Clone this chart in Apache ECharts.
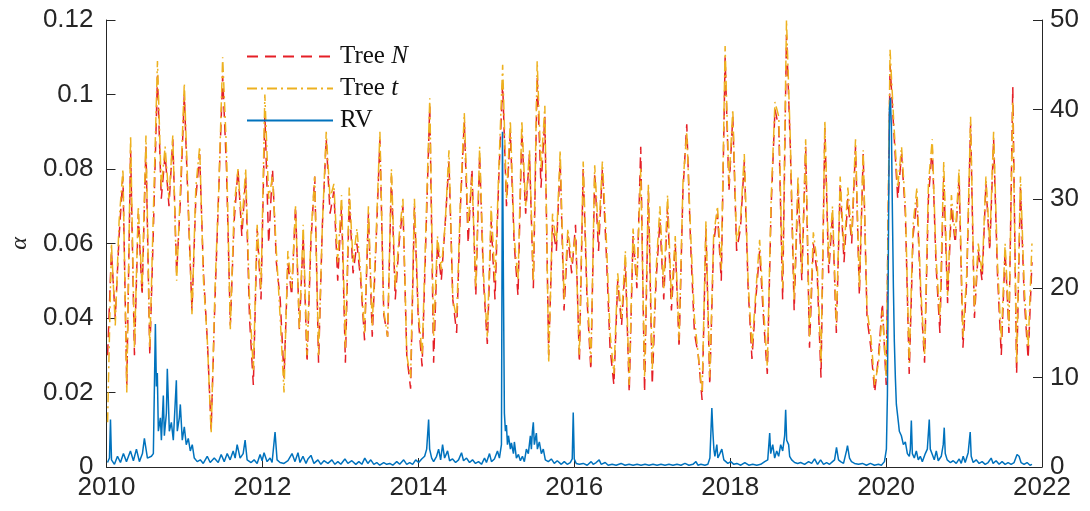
<!DOCTYPE html>
<html>
<head>
<meta charset="utf-8">
<title>Tree alpha vs RV</title>
<script src="https://cdn.jsdelivr.net/npm/echarts@6.0.0/dist/echarts.min.js"></script>
<style>
  html, body { margin: 0; padding: 0; background: #fff; }
  #main { width: 1090px; height: 511px; }
</style>
</head>
<body>
<div id="main"></div>
<script type="text/javascript">
// regular date grid of the tree estimates (decimal years)
var gridStart = 2010.014;
var gridStep = 0.0492;

// alpha, Tree N (red dashed), one value per grid date
var treeN = [
  .030,.058,.040,.062,.078,.022,.085,.030,.068,.046,
  .086,.030,.066,.105,.072,.084,.070,.088,.052,.072,
  .100,.070,.042,.072,.084,.052,.034,.010,.045,.075,
  .105,.080,.038,.066,.080,.062,.078,.040,.022,.064,
  .045,.095,.060,.080,.055,.045,.024,.055,.046,.070,
  .037,.062,.028,.060,.078,.028,.065,.088,.068,.074,
  .050,.070,.028,.072,.052,.060,.050,.034,.068,.035,
  .060,.088,.041,.035,.078,.045,.060,.070,.030,.021,
  .070,.040,.027,.062,.097,.028,.060,.050,.065,.082,
  .045,.036,.070,.093,.060,.080,.046,.084,.050,.033,
  .066,.045,.078,.103,.070,.090,.060,.046,.090,.068,
  .084,.048,.105,.075,.094,.030,.065,.058,.082,.042,
  .062,.052,.065,.028,.080,.045,.026,.079,.058,.080,
  .058,.032,.022,.050,.038,.055,.020,.062,.048,.086,
  .020,.074,.022,.050,.066,.045,.070,.042,.060,.032,
  .074,.092,.060,.036,.030,.018,.064,.022,.060,.068,
  .050,.110,.074,.094,.058,.064,.082,.048,.029,.045,
  .058,.040,.025,.070,.096,.091,.045,.116,.086,.042,
  .075,.050,.086,.032,.060,.052,.024,.091,.052,.068,
  .036,.076,.055,.072,.060,.086,.046,.084,.040,.032,
  .020,.030,.044,.022,.108,.090,.072,.084,.068,.025,
  .062,.072,.046,.028,.072,.086,.054,.036,.078,.044,
  .070,.060,.078,.032,.050,.092,.040,.058,.050,.076,
  .058,.088,.052,.030,.058,.036,.102,.025,.075,.045,
  .029,.055
];

// alpha, Tree t (yellow dash-dot)
var treeT = [
  .012,.060,.038,.066,.080,.020,.089,.032,.070,.048,
  .089,.032,.071,.109,.075,.086,.072,.089,.050,.075,
  .103,.072,.041,.075,.086,.050,.034,.009,.048,.075,
  .110,.085,.037,.070,.080,.065,.080,.045,.026,.065,
  .048,.100,.072,.078,.058,.040,.020,.058,.048,.070,
  .037,.065,.030,.062,.078,.030,.065,.090,.072,.076,
  .055,.073,.032,.075,.055,.064,.052,.036,.070,.038,
  .062,.090,.042,.035,.080,.048,.062,.072,.030,.024,
  .072,.042,.030,.065,.099,.035,.062,.053,.065,.085,
  .045,.040,.072,.095,.065,.078,.048,.086,.052,.035,
  .070,.050,.080,.108,.072,.093,.062,.050,.093,.070,
  .085,.050,.109,.080,.097,.028,.068,.060,.085,.045,
  .064,.055,.062,.030,.082,.048,.028,.081,.062,.082,
  .062,.036,.025,.052,.040,.058,.022,.064,.050,.080,
  .024,.076,.026,.053,.070,.048,.073,.045,.062,.034,
  .076,.090,.063,.040,.030,.020,.066,.024,.062,.070,
  .053,.113,.076,.096,.060,.066,.084,.050,.032,.047,
  .061,.043,.027,.072,.098,.094,.048,.120,.088,.045,
  .078,.052,.088,.035,.063,.055,.028,.093,.055,.070,
  .038,.078,.058,.075,.062,.088,.048,.085,.042,.035,
  .022,.028,.042,.024,.112,.092,.075,.086,.070,.028,
  .065,.075,.048,.030,.076,.088,.056,.040,.082,.046,
  .073,.062,.080,.035,.052,.094,.042,.060,.052,.078,
  .060,.090,.055,.034,.060,.038,.098,.028,.078,.048,
  .032,.060
];

// realized volatility (right axis), dates in decimal years
var rvDates = [
  2010.013,2010.038,2010.051,2010.064,2010.102,2010.141,2010.179,2010.217,2010.256,2010.307,
  2010.345,2010.384,2010.422,2010.461,2010.486,2010.525,2010.576,2010.601,2010.627,2010.640,
  2010.652,2010.665,2010.691,2010.704,2010.729,2010.742,2010.768,2010.780,2010.806,2010.832,
  2010.857,2010.896,2010.908,2010.934,2010.947,2010.972,2010.998,2011.023,2011.049,2011.075,
  2011.100,2011.126,2011.164,2011.203,2011.241,2011.292,2011.330,2011.382,2011.433,2011.471,
  2011.510,2011.548,2011.586,2011.625,2011.650,2011.676,2011.714,2011.753,2011.778,2011.804,
  2011.855,2011.893,2011.932,2011.970,2011.996,2012.021,2012.060,2012.098,2012.124,2012.162,
  2012.188,2012.226,2012.277,2012.328,2012.380,2012.418,2012.456,2012.482,2012.520,2012.559,
  2012.584,2012.623,2012.661,2012.712,2012.750,2012.789,2012.840,2012.891,2012.930,2012.968,
  2013.006,2013.058,2013.096,2013.147,2013.198,2013.237,2013.275,2013.313,2013.352,2013.390,
  2013.429,2013.467,2013.505,2013.556,2013.595,2013.633,2013.672,2013.723,2013.761,2013.812,
  2013.851,2013.889,2013.927,2013.966,2014.004,2014.043,2014.081,2014.107,2014.132,2014.145,
  2014.171,2014.196,2014.234,2014.260,2014.286,2014.311,2014.337,2014.375,2014.401,2014.439,
  2014.478,2014.516,2014.554,2014.580,2014.618,2014.657,2014.695,2014.733,2014.772,2014.810,
  2014.849,2014.874,2014.913,2014.938,2014.976,2015.015,2015.040,2015.066,2015.079,2015.092,
  2015.104,2015.117,2015.130,2015.143,2015.156,2015.181,2015.194,2015.220,2015.232,2015.258,
  2015.284,2015.309,2015.335,2015.360,2015.386,2015.411,2015.437,2015.450,2015.463,2015.475,
  2015.488,2015.514,2015.527,2015.552,2015.578,2015.603,2015.629,2015.667,2015.706,2015.744,
  2015.782,2015.834,2015.872,2015.910,2015.949,2015.974,2015.987,2016.000,2016.025,2016.064,
  2016.115,2016.166,2016.217,2016.243,2016.281,2016.320,2016.345,2016.397,2016.435,2016.486,
  2016.537,2016.601,2016.652,2016.704,2016.755,2016.806,2016.857,2016.908,2016.959,2017.011,
  2017.062,2017.113,2017.164,2017.215,2017.266,2017.318,2017.369,2017.420,2017.471,2017.522,
  2017.561,2017.586,2017.625,2017.676,2017.714,2017.740,2017.765,2017.778,2017.791,2017.804,
  2017.829,2017.842,2017.868,2017.893,2017.919,2017.944,2017.970,2018.008,2018.047,2018.085,
  2018.136,2018.188,2018.239,2018.290,2018.341,2018.392,2018.443,2018.482,2018.507,2018.520,
  2018.546,2018.571,2018.597,2018.622,2018.648,2018.674,2018.699,2018.712,2018.725,2018.750,
  2018.763,2018.789,2018.827,2018.866,2018.904,2018.955,2019.006,2019.045,2019.083,2019.121,
  2019.160,2019.198,2019.237,2019.275,2019.313,2019.339,2019.364,2019.390,2019.416,2019.454,
  2019.492,2019.505,2019.531,2019.556,2019.595,2019.646,2019.697,2019.748,2019.799,2019.851,
  2019.902,2019.940,2019.979,2020.004,2020.017,2020.030,2020.043,2020.055,2020.068,2020.081,
  2020.094,2020.106,2020.119,2020.132,2020.158,2020.170,2020.196,2020.222,2020.247,2020.273,
  2020.298,2020.311,2020.324,2020.337,2020.362,2020.388,2020.413,2020.439,2020.465,2020.503,
  2020.529,2020.554,2020.567,2020.593,2020.618,2020.644,2020.669,2020.708,2020.733,2020.746,
  2020.759,2020.784,2020.823,2020.861,2020.900,2020.938,2020.964,2020.989,2021.015,2021.053,
  2021.079,2021.092,2021.117,2021.156,2021.194,2021.232,2021.271,2021.309,2021.348,2021.373,
  2021.411,2021.450,2021.488,2021.527,2021.565,2021.604,2021.642,2021.680,2021.706,2021.731,
  2021.770,2021.808,2021.846,2021.872
];
var rv = [
  0.5,1.0,5.3,0.8,0.3,1.2,0.5,1.5,0.6,1.8,
  0.7,2.0,0.6,1.5,3.2,1.0,1.2,1.5,16.0,9.0,
  10.5,4.0,5.5,3.0,8.0,3.5,6.0,11.0,4.0,5.0,
  3.0,9.7,4.0,5.5,7.0,3.0,4.5,2.5,3.2,1.8,
  2.5,1.0,0.6,0.8,0.4,1.2,0.5,1.0,0.5,1.4,
  0.6,1.5,0.8,1.8,1.0,2.5,1.0,1.5,3.0,0.8,
  0.5,0.8,0.4,1.4,0.7,1.6,0.6,1.0,0.5,3.9,
  0.8,0.5,0.4,0.7,1.5,0.6,1.6,0.5,1.2,0.4,
  0.9,1.3,0.4,0.8,0.3,0.7,0.4,0.8,0.3,0.6,
  0.3,0.9,0.4,0.7,0.3,0.6,0.3,1.0,0.4,0.8,
  0.3,0.5,0.2,0.5,0.3,0.4,0.2,0.6,0.3,0.8,
  0.3,0.5,0.3,0.8,0.5,0.9,1.2,2.0,5.3,2.0,
  1.0,0.6,1.2,2.0,0.8,2.5,1.0,1.8,0.7,0.9,
  0.5,0.8,1.6,0.7,1.0,0.5,0.8,0.4,0.6,0.3,
  1.0,0.5,1.5,0.6,0.9,1.8,1.0,2.5,37.5,20.0,
  6.0,4.0,4.7,2.5,3.5,2.0,2.7,1.5,2.8,1.0,
  1.4,0.7,1.2,0.6,2.0,1.5,3.5,2.0,4.0,5.0,
  2.5,3.8,2.0,2.8,1.5,2.0,0.8,0.6,0.9,0.4,
  0.7,0.3,0.6,0.3,0.5,0.9,6.1,0.9,0.4,0.3,
  0.4,0.2,0.6,0.3,0.5,0.8,0.3,0.5,0.2,0.3,
  0.2,0.4,0.2,0.3,0.2,0.3,0.2,0.3,0.2,0.3,
  0.2,0.3,0.2,0.3,0.2,0.3,0.2,0.4,0.2,0.3,
  0.6,0.2,0.3,0.2,0.3,1.0,6.6,4.0,2.0,1.2,
  2.5,1.0,1.5,2.0,0.8,1.0,0.4,0.6,0.3,0.4,
  0.2,0.5,0.2,0.3,0.2,0.3,0.6,0.8,3.8,1.5,
  2.5,1.0,1.8,1.2,2.5,1.8,3.5,6.4,3.0,2.5,
  1.2,0.8,0.5,0.4,0.5,0.3,0.6,0.4,0.9,0.3,
  0.8,0.3,0.5,0.3,0.6,0.8,2.2,0.8,0.6,0.4,
  1.8,2.4,1.0,0.6,0.4,0.3,0.4,0.2,0.4,0.2,
  0.3,0.2,0.6,2.0,8.0,25.0,40.0,41.3,38.0,28.5,
  20.0,14.0,10.0,7.0,5.0,4.0,3.5,2.5,2.8,1.5,
  1.2,2.0,5.2,1.5,1.0,1.8,0.8,1.2,0.6,1.5,
  2.0,5.3,2.0,1.4,0.8,1.8,0.7,1.2,2.5,4.4,
  1.5,0.8,0.5,0.7,0.4,0.9,0.4,1.2,0.5,1.6,
  3.9,1.2,0.5,0.8,0.4,0.6,0.3,0.5,1.0,0.4,
  0.7,0.3,0.6,0.3,0.5,0.3,0.5,1.4,1.2,0.5,
  0.3,0.5,0.2,0.3
];

var xTicks = [2010, 2012, 2014, 2016, 2018, 2020, 2022];
var alphaTicks = [0, 0.02, 0.04, 0.06, 0.08, 0.1, 0.12];
var rvTicks = [0, 10, 20, 30, 40, 50];

var axisColor = '#262626';
var labelFont = 'Liberation Sans, Arial, sans-serif';
var serifFont = 'Liberation Serif, DejaVu Serif, serif';

function gridPairs(vals) {
    var out = [];
    for (var i = 0; i < vals.length; i++) {
        out.push([gridStart + i * gridStep, vals[i]]);
    }
    return out;
}
function pairs(xs, ys) {
    return xs.map(function (x, i) { return [x, ys[i]]; });
}

var myChart = echarts.init(document.getElementById('main'));
var option = {
    animation: false,
    backgroundColor: '#fff',
    grid: { left: 104, right: 48, top: 20, bottom: 44 },
    legend: {
        data: ['Tree N', 'Tree t', 'RV'],
        orient: 'vertical',
        left: 241,
        top: 37,
        itemWidth: 86,
        itemHeight: 14,
        itemGap: 3,
        itemStyle: { opacity: 0 },
        formatter: function (name) {
            if (name === 'Tree N') return 'Tree {i|N}';
            if (name === 'Tree t') return 'Tree {i|t}';
            return name;
        },
        textStyle: {
            fontFamily: serifFont,
            fontSize: 25,
            lineHeight: 29,
            color: '#111',
            padding: [0, 0, 0, 2],
            rich: {
                i: { fontFamily: serifFont, fontStyle: 'italic', fontSize: 25, color: '#111' }
            }
        }
    },
    xAxis: {
        type: 'value',
        min: xTicks[0],
        max: xTicks[xTicks.length - 1],
        interval: 2,
        splitLine: { show: false },
        axisLine: { show: true, onZero: false, lineStyle: { color: axisColor, width: 1 } },
        axisTick: { show: true, inside: true, length: 9, lineStyle: { color: axisColor } },
        axisLabel: {
            color: axisColor, fontSize: 26, fontFamily: labelFont, margin: 8,
            formatter: function (v) { return String(Math.round(v)); }
        }
    },
    yAxis: [
        {
            type: 'value',
            min: alphaTicks[0],
            max: alphaTicks[alphaTicks.length - 1],
            interval: 0.02,
            name: 'α',
            nameLocation: 'middle',
            nameGap: 74,
            nameRotate: 90,
            nameTextStyle: { fontFamily: serifFont, fontStyle: 'italic', fontSize: 24, color: axisColor },
            splitLine: { show: false },
            axisLine: { show: true, lineStyle: { color: axisColor, width: 1 } },
            axisTick: { show: true, inside: true, length: 9, lineStyle: { color: axisColor } },
            axisLabel: {
                color: axisColor, fontSize: 26, fontFamily: labelFont, margin: 13,
                formatter: function (v) { return String(+v.toFixed(2)); }
            }
        },
        {
            type: 'value',
            position: 'right',
            min: rvTicks[0],
            max: rvTicks[rvTicks.length - 1],
            interval: 10,
            splitLine: { show: false },
            axisLine: { show: true, lineStyle: { color: axisColor, width: 1 } },
            axisTick: { show: true, inside: true, length: 9, lineStyle: { color: axisColor } },
            axisLabel: { color: axisColor, fontSize: 26, fontFamily: labelFont, margin: 8 }
        }
    ],
    series: [
        {
            name: 'Tree N',
            type: 'line',
            yAxisIndex: 0,
            symbol: 'none',
            data: gridPairs(treeN),
            itemStyle: { color: '#e51f26' },
            lineStyle: { color: '#e51f26', width: 1.5, type: [11, 7] }
        },
        {
            name: 'Tree t',
            type: 'line',
            yAxisIndex: 0,
            symbol: 'none',
            data: gridPairs(treeT),
            itemStyle: { color: '#EDB120' },
            lineStyle: { color: '#EDB120', width: 1.5, type: [10, 4, 2, 4] }
        },
        {
            name: 'RV',
            type: 'line',
            yAxisIndex: 1,
            symbol: 'none',
            data: pairs(rvDates, rv),
            itemStyle: { color: '#0072BD' },
            lineStyle: { color: '#0072BD', width: 1.5 }
        }
    ]
};
myChart.setOption(option);
</script>
</body>
</html>
